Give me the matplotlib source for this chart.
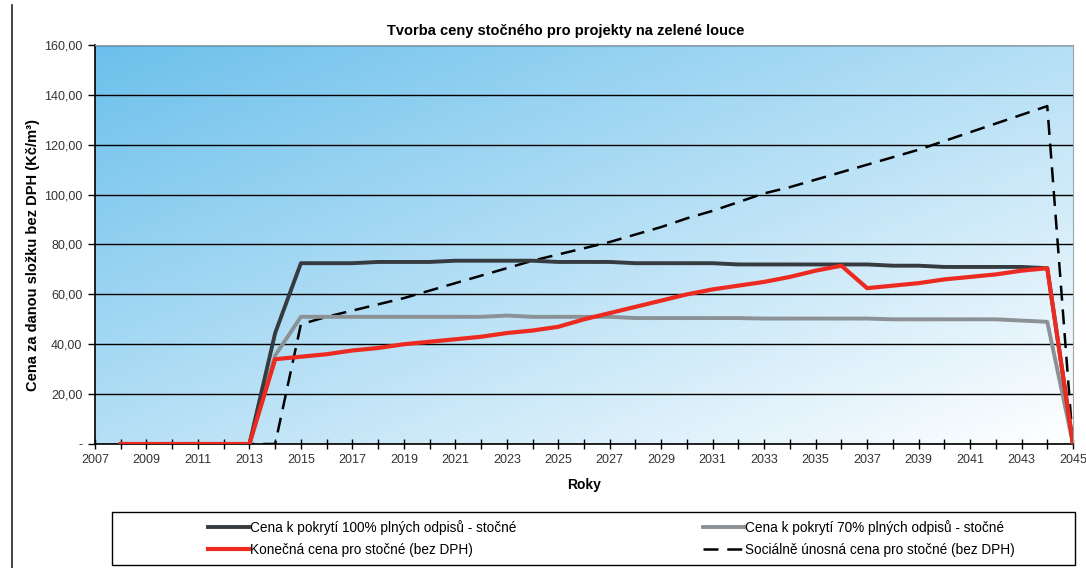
import matplotlib.pyplot as plt
import matplotlib.lines as mlines
from matplotlib.patches import Rectangle
from matplotlib.ticker import MultipleLocator, FixedLocator, FuncFormatter
import numpy as np

plt.rcParams['font.family'] = ['Liberation Sans', 'DejaVu Sans']

# Data
years = list(range(2008, 2046))

cena_100 = [0, 0, 0, 0, 0, 0, 44.5, 72.5, 72.5, 72.5, 73, 73, 73, 73.5, 73.5, 73.5,
            73.5, 73, 73, 73, 72.5, 72.5, 72.5, 72.5, 72, 72, 72, 72, 72, 72,
            71.5, 71.5, 71, 71, 71, 71, 70.5, 0]
cena_70 = [0, 0, 0, 0, 0, 0, 35.5, 51, 51, 51, 51, 51, 51, 51, 51, 51.5,
           51, 51, 51, 51, 50.5, 50.5, 50.5, 50.5, 50.5, 50.3, 50.3, 50.3, 50.3, 50.3,
           50, 50, 50, 50, 50, 49.5, 49, 0]
konecna = [0, 0, 0, 0, 0, 0, 34, 35, 36, 37.5, 38.5, 40, 41, 42, 43, 44.5,
           45.5, 47, 50, 52.5, 55, 57.5, 60, 62, 63.5, 65, 67, 69.5, 71.5, 62.5,
           63.5, 64.5, 66, 67, 68, 69.5, 70.5, 0]
socialne = [0, 0, 0, 0, 0, 0, 0, 48, 51, 53.5, 56, 58.5, 61.5, 64.5, 67.5, 70.5,
            73.5, 76, 78.5, 81, 84, 87, 90.5, 93.5, 97, 100.5, 103, 106, 109, 112,
            115, 118, 121.5, 125, 128.5, 132, 135.5, 0]

labels = ['Cena k pokrytí 100% plných odpisů - stočné',
          'Cena k pokrytí 70% plných odpisů - stočné',
          'Konečná cena pro stočné (bez DPH)',
          'Sociálně únosná cena pro stočné (bez DPH)']
xticks = list(range(2007, 2046, 2))

fig = plt.figure(figsize=(10.86, 5.68), dpi=100)
ax = fig.add_axes([95 / 1086, 1 - 444 / 568, 978 / 1086, 399 / 568])

# Diagonal blue-to-white gradient background
gx, gy = np.meshgrid(np.linspace(0, 1, 200), np.linspace(1, 0, 200))
t = (gx + (1 - gy)) / 2
c0 = np.array([108, 192, 236]) / 255
c1 = np.array([1.0, 1.0, 1.0])
img = c0[None, None, :] * (1 - t[..., None]) + c1[None, None, :] * t[..., None]
ax.imshow(img, extent=[0, 1, 0, 1], transform=ax.transAxes, aspect='auto', zorder=0,
          interpolation='bilinear')

ax.plot(years, socialne, color='black', lw=1.8, dashes=(6, 3.5), zorder=3)
ax.plot(years, cena_70, color='#8b9195', lw=2.8, zorder=4)
ax.plot(years, cena_100, color='#353b3f', lw=2.8, zorder=4)
ax.plot(years, konecna, color='#ec2a20', lw=3.0, zorder=5)

ax.set_xlim(2007, 2045)
ax.set_ylim(0, 160)
ax.yaxis.set_major_locator(MultipleLocator(20))
ax.xaxis.set_major_locator(FixedLocator(xticks))
ax.xaxis.set_minor_locator(MultipleLocator(1))
ax.yaxis.set_major_formatter(FuncFormatter(
    lambda v, p: '-' if v == 0 else f'{v:.2f}'.replace('.', ',')))
ax.grid(axis='y', color='black', lw=1.0, zorder=1)
for gl in ax.get_ygridlines():
    gl.set_zorder(1)

ax.tick_params(axis='x', which='both', direction='inout', length=7, width=1,
               labelsize=9, colors='black', pad=4)
ax.tick_params(axis='y', direction='out', length=5, width=1, labelsize=9, pad=4)
for lab in ax.get_xticklabels() + ax.get_yticklabels():
    lab.set_color('#333333')

ax.spines['left'].set_color('black')
ax.spines['bottom'].set_color('black')
ax.spines['left'].set_linewidth(1.2)
ax.spines['bottom'].set_linewidth(1.2)
ax.spines['top'].set_color('#9aa4aa')
ax.spines['right'].set_color('#9aa4aa')

fig.text(566 / 1086, 1 - 31 / 568, 'Tvorba ceny stočného pro projekty na zelené louce',
         ha='center', va='center', fontsize=10.5, fontweight='bold')
ax.set_xlabel('Roky', fontsize=10, fontweight='bold')
ax.xaxis.set_label_coords(0.5, -(478 - 444) / 399)
ax.set_ylabel('Cena za danou složku bez DPH (Kč/m³)', fontsize=10.5, fontweight='bold')
ax.yaxis.set_label_coords(-(95 - 40) / 978, (444 - 255) / 399)

# Legend box
fig.patches.append(Rectangle((112 / 1086, 1 - 565 / 568), 963 / 1086, 53 / 568,
                             transform=fig.transFigure, fill=False, edgecolor='black',
                             lw=1.0))
h100 = mlines.Line2D([], [], color='#353b3f', lw=2.8)
h70 = mlines.Line2D([], [], color='#8b9195', lw=2.8)
hkon = mlines.Line2D([], [], color='#ec2a20', lw=3.0)
hsoc = mlines.Line2D([], [], color='black', lw=1.8, dashes=(6, 3.5))
leg_kw = dict(loc='center left', frameon=False, fontsize=9.8, handlelength=3.0,
              handletextpad=0.1, labelspacing=0.55, borderpad=0, borderaxespad=0)
fig.legend([h100, hkon], [labels[0], labels[2]],
           bbox_to_anchor=(208 / 1086, 1 - 538.5 / 568), **leg_kw)
fig.legend([h70, hsoc], [labels[1], labels[3]],
           bbox_to_anchor=(703 / 1086, 1 - 538.5 / 568), **leg_kw)

# left page edge
fig.add_artist(mlines.Line2D([12 / 1086, 12 / 1086], [0, 1 - 5 / 568], color='#222222',
                             lw=1.2, transform=fig.transFigure))

fig.savefig('out.png', dpi=100)
